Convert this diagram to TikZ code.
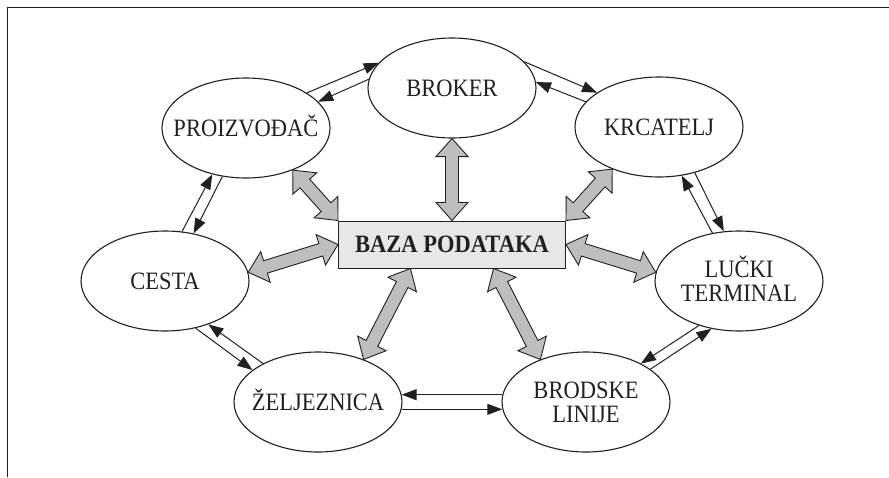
\documentclass[tikz,border=0pt]{standalone}
\usepackage{fontspec}
\setmainfont{Liberation Serif}[FakeStretch=0.9]
\usetikzlibrary{shapes.geometric,arrows.meta,calc}
\definecolor{ink}{HTML}{231F20}
\definecolor{boxgray}{HTML}{E6E7E8}
\definecolor{arrgray}{HTML}{BCBEC0}
\newcommand\capl[1]{\raisebox{0pt}[16.5pt][0pt]{#1}}
\newcommand\garrow[2]{%
  \draw[garrowstyle] let \p1=(#1), \p2=(#2), \n1={atan2(\y2-\y1,\x2-\x1)} in
    (\p1) -- +(\n1+41.63:24.08pt) -- +(\n1+19.85:19.14pt)
    -- ($(\p2)+(\n1+160.15:19.14pt)$) -- ($(\p2)+(\n1+138.37:24.08pt)$)
    -- (\p2) -- +(\n1+221.63:24.08pt) -- +(\n1+199.85:19.14pt)
    -- ($(\p1)+(\n1-19.85:19.14pt)$) -- ($(\p1)+(\n1-41.63:24.08pt)$) -- cycle;}
\tikzset{
  ellip/.style={ellipse, draw=ink, line width=1.1pt, minimum width=168pt, minimum height=100pt,
    inner xsep=-25pt, inner ysep=-5pt, align=center, text=ink, font=\fontsize{25}{24.5}\selectfont},
  dbbox/.style={draw=ink, line width=1pt, fill=boxgray, minimum width=227pt, minimum height=47pt,
    inner sep=0pt, text=ink, font=\fontsize{25}{24.5}\selectfont\bfseries},
  garrowstyle/.style={draw=ink, fill=arrgray, line width=0.9pt, line join=miter},
  flow/.style={draw=ink, line width=1pt, -{Triangle[length=15pt,width=11pt]}},
  frame/.style={draw=ink, line width=1.6pt}
}
\begin{document}
\begin{tikzpicture}[x=1pt,y=-1pt]
\useasboundingbox (0,0) rectangle (889,477);
\draw[frame] (7.5,477) -- (7.5,7.5) -- (889,7.5);

\node[ellip] (broker) at (452,88) {\capl{BROKER}};
\node[ellip] (proiz) at (246,128) {\capl{PROIZVOĐAČ}};
\node[ellip] (krca) at (659,127) {\capl{KRCATELJ}};
\node[ellip] (cesta) at (165,281) {\capl{CESTA}};
\node[ellip] (lucki) at (739,281) {\capl{LUČKI}\\\capl{TERMINAL}};
\node[ellip] (zelj) at (318,402) {\capl{ŽELJEZNICA}};
\node[ellip] (brod) at (586,402) {\capl{BRODSKE}\\\capl{LINIJE}};
\node[dbbox] (box) at (452,244.5) {\capl{BAZA PODATAKA}};

\garrow{broker.south}{box.north}
\garrow{proiz.-42}{box.north west}
\garrow{krca.-138}{box.north east}
\garrow{cesta.6}{box.west}
\garrow{lucki.174}{box.east}
\garrow{zelj.43}{box.-150}
\garrow{brod.137}{box.-30}

\draw[flow] (proiz.30) -- (broker.161);
\draw[flow] (broker.174) -- (proiz.20);
\draw[flow] (broker.20) -- (krca.151);
\draw[flow] (krca.161) -- (broker.4);
\draw[flow] (krca.-52) -- (lucki.107);
\draw[flow] (lucki.119) -- (krca.-65);
\draw[flow] (lucki.-132) -- (brod.35);
\draw[flow] (brod.27) -- (lucki.-120);
\draw[flow] (brod.175) -- (zelj.5);
\draw[flow] (zelj.-5) -- (brod.185);
\draw[flow] (cesta.-57) -- (zelj.154);
\draw[flow] (zelj.145) -- (cesta.-45);
\draw[flow] (cesta.71) -- (proiz.-126);
\draw[flow] (proiz.-116) -- (cesta.59);
\end{tikzpicture}
\end{document}
